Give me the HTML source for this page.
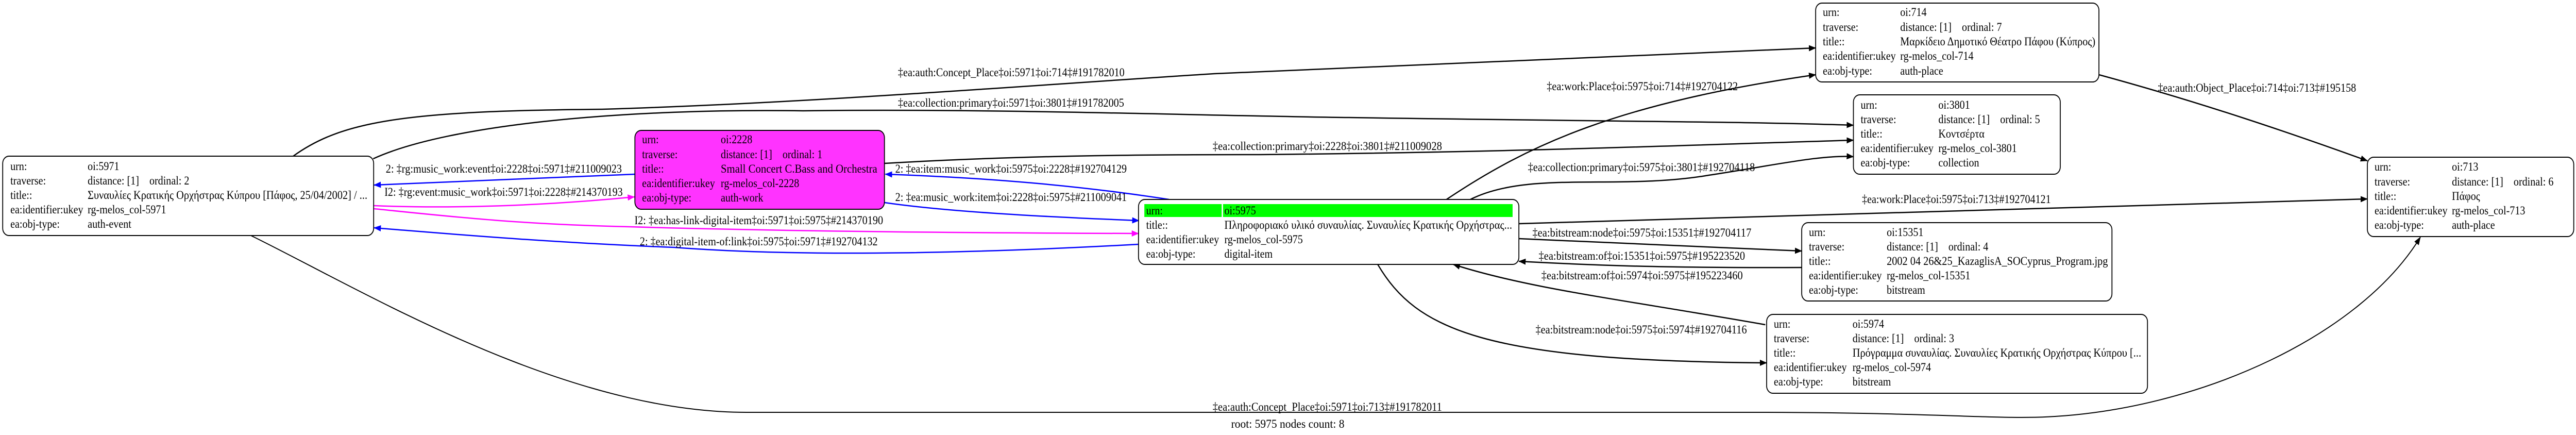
<!DOCTYPE html>
<html><head><meta charset="utf-8"><style>
html,body{margin:0;padding:0;background:#fff;width:100%;height:100%;overflow:hidden}
svg{display:block;position:absolute;left:0;top:0;width:100vw;height:100vh}
text{font-family:"Liberation Serif","DejaVu Serif",serif;font-size:23px;fill:#000;white-space:pre}
</style></head><body>
<svg viewBox="0 0 5729 844" preserveAspectRatio="none" xmlns="http://www.w3.org/2000/svg">
<defs>
<marker id="ak" markerWidth="16" markerHeight="12" refX="15" refY="6" orient="auto" markerUnits="userSpaceOnUse"><path d="M0,0 L16,6 L0,12 z" fill="#000"/></marker>
<marker id="ab" markerWidth="16" markerHeight="12" refX="15" refY="6" orient="auto" markerUnits="userSpaceOnUse"><path d="M0,0 L16,6 L0,12 z" fill="#0000ff"/></marker>
<marker id="am" markerWidth="16" markerHeight="12" refX="15" refY="6" orient="auto" markerUnits="userSpaceOnUse"><path d="M0,0 L16,6 L0,12 z" fill="#ff00ff"/></marker>
</defs>
<g fill="none" stroke-width="2.5">
<path stroke="#000" marker-end="url(#ak)" d="M652,303 C760,235 900,215 1339,212 C1800,200 2300,165 2700,143 L4038,93"/>
<path stroke="#000" marker-end="url(#ak)" d="M830,308 C1000,240 1400,210 1786,215 C2200,210 2700,225 3000,228 C3600,236 3900,236 4122,243"/>
<path stroke="#000" marker-end="url(#ak)" d="M1967,317 C2300,300 2600,300 2800,300 C3400,295 3800,280 4122,272"/>
<path stroke="#000" marker-end="url(#ak)" d="M3217,387 C3400,280 3600,200 4038,145"/>
<path stroke="#000" marker-end="url(#ak)" d="M3270,387 C3400,330 3600,370 3800,340 C3950,320 4050,300 4122,304"/>
<path stroke="#000" marker-end="url(#ak)" d="M3378,434 L5265,386"/>
<path stroke="#000" marker-end="url(#ak)" d="M3378,463 C3600,470 3800,480 4007,487"/>
<path stroke="#000" marker-end="url(#ak)" d="M4007,519 C3700,520 3550,515 3378,507"/>
<path stroke="#000" marker-end="url(#ak)" d="M3926,630 C3600,580 3400,560 3232,513"/>
<path stroke="#000" marker-end="url(#ak)" d="M3064,513 C3150,640 3300,700 3929,704"/>
<path stroke="#000" marker-end="url(#ak)" d="M4668,145 C4900,200 5100,260 5265,312"/>
<path stroke="#000" stroke-width="2" marker-end="url(#ak)" d="M558,457 C800,560 1250,800 1660,800 L3900,800 C4300,800 4450,815 4570,808 C4900,790 5250,650 5383,460"/>
<path stroke="#0000ff" marker-end="url(#ab)" d="M1412,338 L832,359"/>
<path stroke="#0000ff" marker-end="url(#ab)" d="M2600,387 C2400,360 2200,345 1969,338"/>
<path stroke="#0000ff" marker-end="url(#ab)" d="M1967,393 C2100,410 2300,420 2533,428"/>
<path stroke="#0000ff" marker-end="url(#ab)" d="M2532,474 C2200,490 1800,500 1500,480 C1200,470 950,450 832,442"/>
<path stroke="#ff00ff" marker-end="url(#am)" d="M832,399 C1000,405 1200,400 1411,382"/>
<path stroke="#ff00ff" marker-end="url(#am)" d="M832,405 C1000,420 1150,435 1400,440 C1800,450 2200,452 2532,453"/>
</g>
<g stroke="#000" stroke-width="2">
<rect x="6" y="303" width="825" height="154" rx="14" fill="#fff"/>
<rect x="1412" y="253" width="555" height="153" rx="14" fill="#ff33ff"/>
<rect x="2532" y="387" width="846" height="126" rx="14" fill="#fff"/>
<rect x="4038" y="6" width="630" height="153" rx="14" fill="#fff"/>
<rect x="4122" y="184" width="460" height="154" rx="14" fill="#fff"/>
<rect x="5265" y="305" width="459" height="154" rx="14" fill="#fff"/>
<rect x="4007" y="432" width="690" height="152" rx="14" fill="#fff"/>
<rect x="3929" y="610" width="847" height="153" rx="14" fill="#fff"/>
</g>
<rect x="2545" y="396" width="172" height="25" fill="#00ff00"/>
<rect x="2720" y="396" width="644" height="25" fill="#00ff00"/>

<text x="23" y="330">urn:</text><text x="195" y="330">oi:5971</text>
<text x="23" y="358">traverse:</text><text x="195" y="358">distance: [1]    ordinal: 2</text>
<text x="23" y="386">title::</text><text x="195" y="386" textLength="622" lengthAdjust="spacingAndGlyphs">Συναυλίες Κρατικής Ορχήστρας Κύπρου [Πάφος, 25/04/2002] / ...</text>
<text x="23" y="414">ea:identifier:ukey</text><text x="195" y="414">rg-melos_col-5971</text>
<text x="23" y="442">ea:obj-type:</text><text x="195" y="442">auth-event</text>

<text x="1428" y="278">urn:</text><text x="1603" y="278">oi:2228</text>
<text x="1428" y="307">traverse:</text><text x="1603" y="307">distance: [1]    ordinal: 1</text>
<text x="1428" y="335">title::</text><text x="1603" y="335" textLength="348" lengthAdjust="spacingAndGlyphs">Small Concert C.Bass and Orchestra</text>
<text x="1428" y="363">ea:identifier:ukey</text><text x="1603" y="363">rg-melos_col-2228</text>
<text x="1428" y="391">ea:obj-type:</text><text x="1603" y="391">auth-work</text>

<text x="2549" y="416">urn:</text><text x="2723" y="416">oi:5975</text>
<text x="2549" y="444">title::</text><text x="2723" y="444" textLength="640" lengthAdjust="spacingAndGlyphs">Πληροφοριακό υλικό συναυλίας. Συναυλίες Κρατικής Ορχήστρας...</text>
<text x="2549" y="472">ea:identifier:ukey</text><text x="2723" y="472">rg-melos_col-5975</text>
<text x="2549" y="500">ea:obj-type:</text><text x="2723" y="500">digital-item</text>

<text x="4054" y="31">urn:</text><text x="4226" y="31">oi:714</text>
<text x="4054" y="60">traverse:</text><text x="4226" y="60">distance: [1]    ordinal: 7</text>
<text x="4054" y="88">title::</text><text x="4226" y="88" textLength="434" lengthAdjust="spacingAndGlyphs">Μαρκίδειο Δημοτικό Θέατρο Πάφου (Κύπρος)</text>
<text x="4054" y="116">ea:identifier:ukey</text><text x="4226" y="116">rg-melos_col-714</text>
<text x="4054" y="145">ea:obj-type:</text><text x="4226" y="145">auth-place</text>

<text x="4138" y="211">urn:</text><text x="4311" y="211">oi:3801</text>
<text x="4138" y="239">traverse:</text><text x="4311" y="239">distance: [1]    ordinal: 5</text>
<text x="4138" y="267">title::</text><text x="4311" y="267">Κοντσέρτα</text>
<text x="4138" y="295">ea:identifier:ukey</text><text x="4311" y="295">rg-melos_col-3801</text>
<text x="4138" y="323">ea:obj-type:</text><text x="4311" y="323">collection</text>

<text x="5281" y="331">urn:</text><text x="5453" y="331">oi:713</text>
<text x="5281" y="360">traverse:</text><text x="5453" y="360">distance: [1]    ordinal: 6</text>
<text x="5281" y="388">title::</text><text x="5453" y="388">Πάφος</text>
<text x="5281" y="416">ea:identifier:ukey</text><text x="5453" y="416">rg-melos_col-713</text>
<text x="5281" y="444">ea:obj-type:</text><text x="5453" y="444">auth-place</text>

<text x="4023" y="458">urn:</text><text x="4196" y="458">oi:15351</text>
<text x="4023" y="486">traverse:</text><text x="4196" y="486">distance: [1]    ordinal: 4</text>
<text x="4023" y="514">title::</text><text x="4196" y="514" textLength="492" lengthAdjust="spacingAndGlyphs">2002 04 26&amp;25_KazaglisA_SOCyprus_Program.jpg</text>
<text x="4023" y="542">ea:identifier:ukey</text><text x="4196" y="542">rg-melos_col-15351</text>
<text x="4023" y="570">ea:obj-type:</text><text x="4196" y="570">bitstream</text>

<text x="3945" y="636">urn:</text><text x="4120" y="636">oi:5974</text>
<text x="3945" y="664">traverse:</text><text x="4120" y="664">distance: [1]    ordinal: 3</text>
<text x="3945" y="692">title::</text><text x="4120" y="692" textLength="642" lengthAdjust="spacingAndGlyphs">Πρόγραμμα συναυλίας. Συναυλίες Κρατικής Ορχήστρας Κύπρου [...</text>
<text x="3945" y="720">ea:identifier:ukey</text><text x="4120" y="720">rg-melos_col-5974</text>
<text x="3945" y="748">ea:obj-type:</text><text x="4120" y="748">bitstream</text>

<g lengthAdjust="spacingAndGlyphs">
<text x="1997" y="148" textLength="504" lengthAdjust="spacingAndGlyphs">‡ea:auth:Concept_Place‡oi:5971‡oi:714‡#191782010</text>
<text x="1997" y="207" textLength="503" lengthAdjust="spacingAndGlyphs">‡ea:collection:primary‡oi:5971‡oi:3801‡#191782005</text>
<text x="2697" y="291" textLength="510" lengthAdjust="spacingAndGlyphs">‡ea:collection:primary‡oi:2228‡oi:3801‡#211009028</text>
<text x="858" y="335" textLength="525" lengthAdjust="spacingAndGlyphs">2: ‡rg:music_work:event‡oi:2228‡oi:5971‡#211009023</text>
<text x="855" y="380" textLength="530" lengthAdjust="spacingAndGlyphs">I2: ‡rg:event:music_work‡oi:5971‡oi:2228‡#214370193</text>
<text x="1991" y="335" textLength="515" lengthAdjust="spacingAndGlyphs">2: ‡ea:item:music_work‡oi:5975‡oi:2228‡#192704129</text>
<text x="1991" y="390" textLength="515" lengthAdjust="spacingAndGlyphs">2: ‡ea:music_work:item‡oi:2228‡oi:5975‡#211009041</text>
<text x="1411" y="435" textLength="553" lengthAdjust="spacingAndGlyphs">I2: ‡ea:has-link-digital-item‡oi:5971‡oi:5975‡#214370190</text>
<text x="1423" y="476" textLength="529" lengthAdjust="spacingAndGlyphs">2: ‡ea:digital-item-of:link‡oi:5975‡oi:5971‡#192704132</text>
<text x="3440" y="175" textLength="425" lengthAdjust="spacingAndGlyphs">‡ea:work:Place‡oi:5975‡oi:714‡#192704122</text>
<text x="3398" y="332" textLength="505" lengthAdjust="spacingAndGlyphs">‡ea:collection:primary‡oi:5975‡oi:3801‡#192704118</text>
<text x="4141" y="394" textLength="420" lengthAdjust="spacingAndGlyphs">‡ea:work:Place‡oi:5975‡oi:713‡#192704121</text>
<text x="3408" y="459" textLength="487" lengthAdjust="spacingAndGlyphs">‡ea:bitstream:node‡oi:5975‡oi:15351‡#192704117</text>
<text x="3422" y="504" textLength="459" lengthAdjust="spacingAndGlyphs">‡ea:bitstream:of‡oi:15351‡oi:5975‡#195223520</text>
<text x="3428" y="542" textLength="448" lengthAdjust="spacingAndGlyphs">‡ea:bitstream:of‡oi:5974‡oi:5975‡#195223460</text>
<text x="3415" y="647" textLength="470" lengthAdjust="spacingAndGlyphs">‡ea:bitstream:node‡oi:5975‡oi:5974‡#192704116</text>
<text x="4799" y="178" textLength="441" lengthAdjust="spacingAndGlyphs">‡ea:auth:Object_Place‡oi:714‡oi:713‡#195158</text>
<text x="2697" y="797" textLength="510" lengthAdjust="spacingAndGlyphs">‡ea:auth:Concept_Place‡oi:5971‡oi:713‡#191782011</text>
<text x="2738" y="830" textLength="252" lengthAdjust="spacingAndGlyphs">root: 5975 nodes count: 8</text>
</g>
</svg>
</body></html>
